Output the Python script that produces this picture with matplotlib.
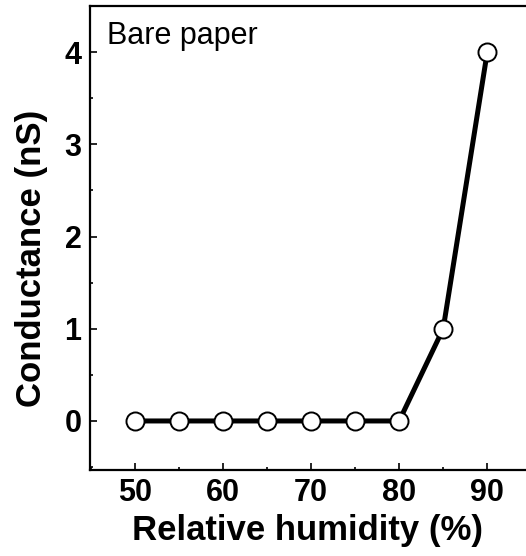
from matplotlib import pyplot as plt
from matplotlib.ticker import MultipleLocator

# relative humidity (%) vs conductance (nS), bare paper
humidity = [50, 55, 60, 65, 70, 75, 80, 85, 90]
conductance = [0, 0, 0, 0, 0, 0, 0, 1, 4]

plt.rcParams['font.family'] = ['Liberation Sans', 'DejaVu Sans']

fig = plt.figure(figsize=(5.26, 5.56), dpi=100)
ax = fig.add_axes([0.171, 0.155, 0.829, 0.834])

ax.plot(humidity, conductance, color='black', lw=3.6,
        marker='o', ms=13, mfc='white', mec='black', mew=1.4)

ax.set_xlim(44.9, 94.4)
ax.set_ylim(-0.53, 4.5)
ax.xaxis.set_major_locator(MultipleLocator(10))
ax.xaxis.set_minor_locator(MultipleLocator(5))
ax.yaxis.set_major_locator(MultipleLocator(1))
ax.yaxis.set_minor_locator(MultipleLocator(0.5))
ax.tick_params(which='both', direction='in', top=False, right=False,
               labelsize=22, width=1.2, pad=6)
ax.tick_params(which='major', length=5)
ax.tick_params(which='minor', length=2.5)
for lab in ax.get_xticklabels() + ax.get_yticklabels():
    lab.set_fontweight('bold')

ax.spines['right'].set_visible(False)
for s in ['left', 'top', 'bottom']:
    ax.spines[s].set_linewidth(1.6)

ax.set_xlabel('Relative humidity (%)', fontsize=25, fontweight='bold', labelpad=4)
ax.set_ylabel('Conductance (nS)', fontsize=25, fontweight='bold')
ax.yaxis.set_label_coords(-0.097, 0.455)
ax.text(0.038, 0.967, 'Bare paper', transform=ax.transAxes,
        fontsize=22, va='top', ha='left')

plt.savefig('out.png', dpi=100)
